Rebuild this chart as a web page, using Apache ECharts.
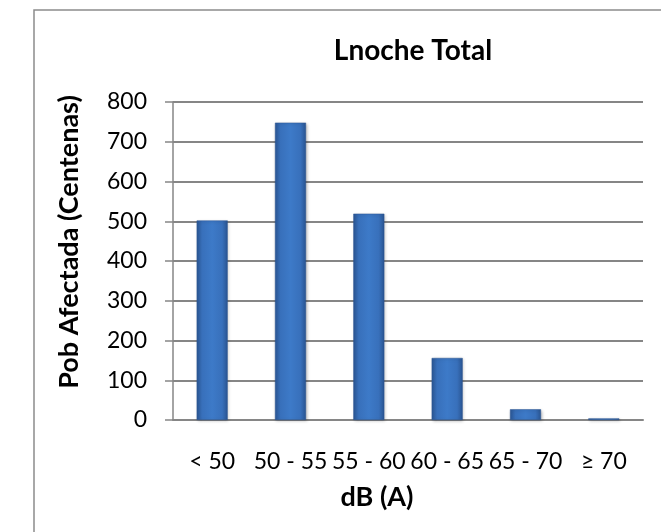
<!DOCTYPE html>
<html>
<head>
<meta charset="utf-8">
<script src="https://cdn.jsdelivr.net/npm/echarts@6/dist/echarts.min.js"></script>
<style>
  html, body { margin: 0; padding: 0; background: #fff; }
  #chart { width: 661px; height: 532px; }
</style>
</head>
<body>
<div id="chart"></div>
<script>
// Noise bands (dB(A)) and affected population (hundreds)
const categories = ['< 50', '50 - 55', '55 - 60', '60 - 65', '65 - 70', '≥ 70'];
const population = [502, 748, 519, 156, 27, 4];
const yTicks = [0, 100, 200, 300, 400, 500, 600, 700, 800];

const chart = echarts.init(document.getElementById('chart'));

const barFill = new echarts.graphic.LinearGradient(0, 0, 1, 0, [
  { offset: 0, color: '#2b5796' },
  { offset: 0.18, color: '#3870bb' },
  { offset: 0.5, color: '#3d7ac8' },
  { offset: 0.82, color: '#3870bb' },
  { offset: 1, color: '#2a5592' }
]);

chart.setOption({
  animation: false,
  backgroundColor: '#ffffff',
  textStyle: { fontFamily: 'Lato' },
  title: {
    text: 'Lnoche Total',
    left: 408,
    top: 32,
    textAlign: 'center',
    textStyle: { fontFamily: 'Lato', fontWeight: 'bold', fontSize: 28, color: '#000' }
  },
  graphic: [{
    type: 'rect',
    shape: { x: 34, y: 10, width: 700, height: 600 },
    style: { fill: 'none', stroke: '#8c8c8c', lineWidth: 1.5 },
    silent: true
  }],
  grid: { left: 173, right: 18, top: 102, bottom: 112, containLabel: false },
  xAxis: {
    type: 'category',
    data: categories,
    name: 'dB (A)',
    nameLocation: 'middle',
    nameGap: 64,
    nameTextStyle: { fontFamily: 'Lato', fontWeight: 'bold', fontSize: 27, color: '#000', padding: [0, 62, 0, 0] },
    axisLine: { lineStyle: { color: '#868686', width: 2 } },
    axisTick: { show: false },
    axisLabel: { color: '#000', fontSize: 23, margin: 30, interval: 0 }
  },
  yAxis: {
    type: 'value',
    min: yTicks[0],
    max: yTicks[yTicks.length - 1],
    interval: yTicks[1] - yTicks[0],
    name: 'Pob Afectada (Centenas)',
    nameLocation: 'middle',
    nameGap: 90,
    nameTextStyle: { fontFamily: 'Lato', fontWeight: 'bold', fontSize: 27, color: '#000', padding: [0, 0, 0, 38] },
    axisLine: { show: true, lineStyle: { color: '#868686', width: 1.5 } },
    axisTick: { show: true, length: 8, lineStyle: { color: '#868686', width: 1.5 } },
    axisLabel: { color: '#000', fontSize: 23, margin: 26 },
    splitLine: { lineStyle: { color: '#868686', width: 2 } }
  },
  series: [{
    type: 'bar',
    data: population,
    barWidth: 31,
    itemStyle: {
      color: barFill,
      borderColor: '#2a5592',
      borderWidth: 0.5,
      shadowColor: 'rgba(0,0,0,0.25)',
      shadowBlur: 3,
      shadowOffsetX: 1,
      shadowOffsetY: 1
    }
  }]
});
</script>
</body>
</html>
